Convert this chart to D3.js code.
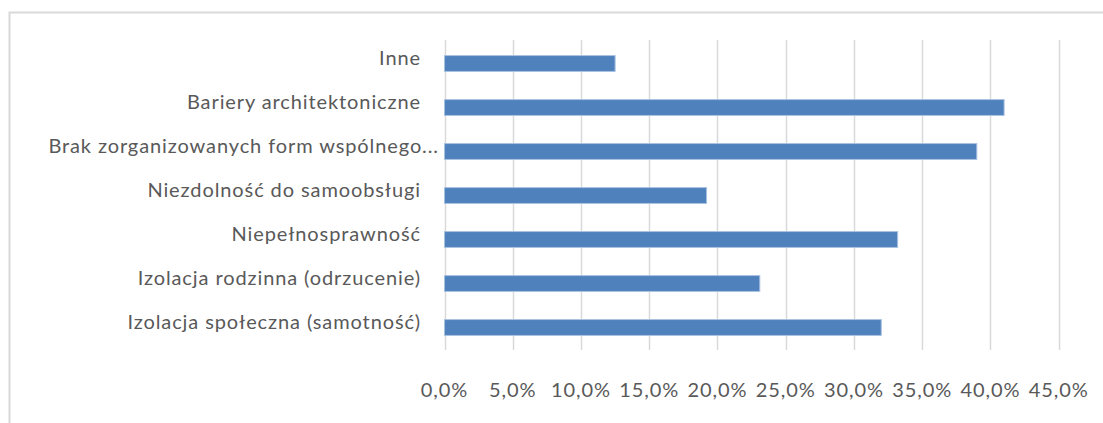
<!DOCTYPE html>
<html>
<head>
<meta charset="utf-8">
<script src="https://cdn.jsdelivr.net/npm/d3@7"></script>
<style>
  body { margin: 0; background: #fff; }
  svg text { font-family: Lato, "Open Sans", sans-serif; fill: #595959; }
</style>
</head>
<body>
<div id="chart"></div>
<script>
// kategorie od góry do dołu
const categories = [
    "Inne",
    "Bariery architektoniczne",
    "Brak zorganizowanych form wspólnego...",
    "Niezdolność do samoobsługi",
    "Niepełnosprawność",
    "Izolacja rodzinna (odrzucenie)",
    "Izolacja społeczna (samotność)"
];
const values = [0.125, 0.41, 0.39, 0.192, 0.332, 0.231, 0.32];
const xTicks = [0, 0.05, 0.10, 0.15, 0.20, 0.25, 0.30, 0.35, 0.40, 0.45];

const width = 1103;
const height = 423;
const plot = { left: 444.5, right: 1058.7, top: 40, bottom: 350 };

const pl = d3.formatLocale({ decimal: ",", thousands: " ", grouping: [3], currency: ["", " zł"] });
const fmt = pl.format(".1%");

const svg = d3.select("#chart").append("svg")
    .attr("width", width)
    .attr("height", height);

// ramka wykresu (ucięta z prawej i z dołu)
svg.append("rect")
    .attr("x", 9.5).attr("y", 12.5)
    .attr("width", 1200).attr("height", 500)
    .attr("fill", "#fff")
    .attr("stroke", "#d9d9d9")
    .attr("stroke-width", 2);

const x = d3.scaleLinear()
    .domain([0, 0.45])
    .range([plot.left, plot.right]);

const y = d3.scaleBand()
    .domain(categories)
    .range([41.5, 349.5])
    .paddingInner(0.64)
    .paddingOuter(0.32);

// siatka
svg.append("g")
    .selectAll("line")
    .data(xTicks)
    .join("line")
    .attr("x1", d => Math.round(x(d)) + 0.5)
    .attr("x2", d => Math.round(x(d)) + 0.5)
    .attr("y1", plot.top)
    .attr("y2", plot.bottom)
    .attr("stroke", "#d9d9d9")
    .attr("stroke-width", 1.5);

// słupki
svg.append("g")
    .selectAll("rect")
    .data(categories)
    .join("rect")
    .attr("x", x(0))
    .attr("y", d => y(d))
    .attr("width", (d, i) => x(values[i]) - x(0))
    .attr("height", y.bandwidth())
    .attr("fill", "#4f81bd")
    .attr("stroke", "#a9c1e0")
    .attr("stroke-width", 1);

// etykiety kategorii
svg.append("g")
    .selectAll("text")
    .data(categories)
    .join("text")
    .attr("x", d => d.endsWith("...") ? 439 : 421)
    .attr("y", d => y(d) + y.bandwidth() / 2 + 1)
    .attr("text-anchor", "end")
    .attr("font-size", "20px")
    .attr("letter-spacing", "0.9px")
    .text(d => d);

// oś X
svg.append("g")
    .selectAll("text")
    .data(xTicks)
    .join("text")
    .attr("x", d => x(d))
    .attr("y", 397)
    .attr("text-anchor", "middle")
    .attr("font-size", "20px")
    .attr("letter-spacing", "0.9px")
    .text(d => fmt(d));
</script>
</body>
</html>
